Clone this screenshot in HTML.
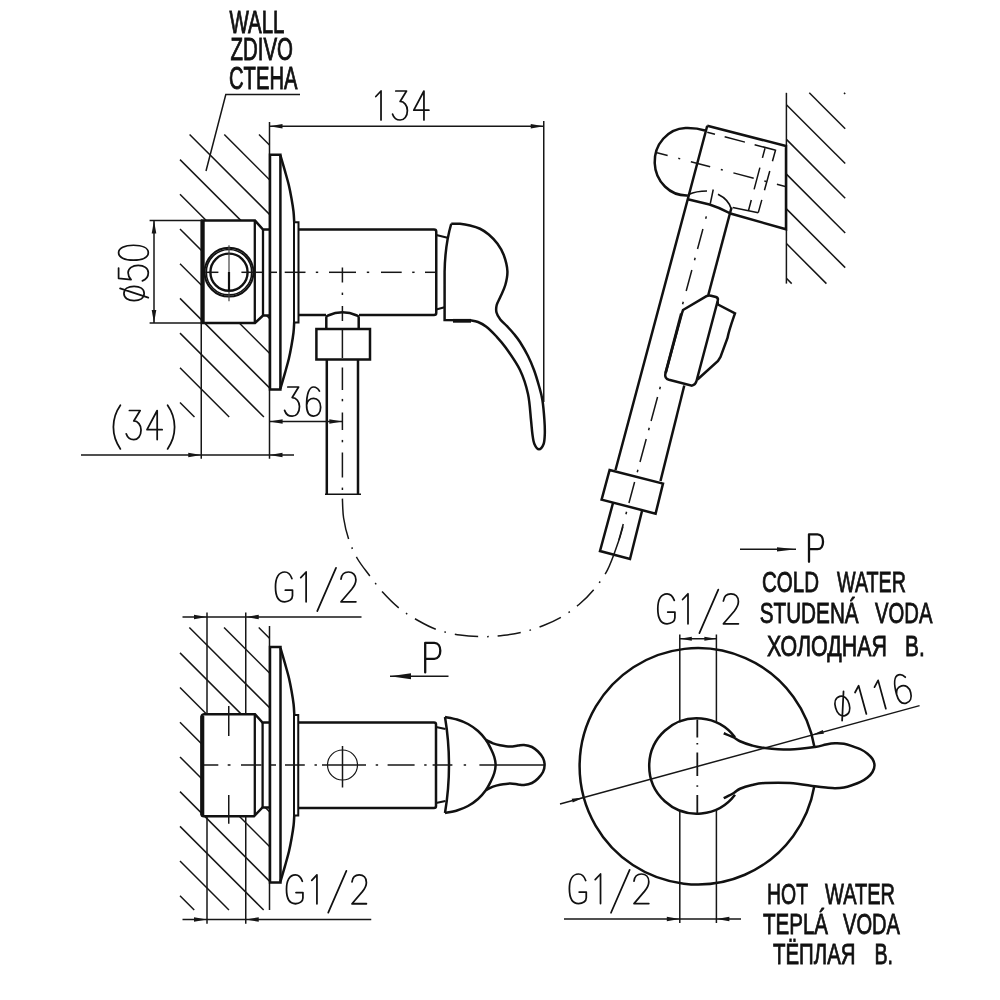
<!DOCTYPE html>
<html><head><meta charset="utf-8"><title>Drawing</title>
<style>html,body{margin:0;padding:0;background:#fff}svg{display:block}text{font-family:"Liberation Sans",sans-serif}svg{filter:grayscale(1)}</style>
</head><body>
<svg width="1000" height="1000" viewBox="0 0 1000 1000">
<rect width="1000" height="1000" fill="#fff"/>
<!-- view 1 -->
<line x1="259.00" y1="134.50" x2="269.50" y2="145.00" stroke="#161616" stroke-width="1.5" />
<line x1="224.30" y1="134.50" x2="269.50" y2="179.70" stroke="#161616" stroke-width="1.5" />
<line x1="189.60" y1="134.50" x2="269.50" y2="214.40" stroke="#161616" stroke-width="1.5" />
<line x1="180.00" y1="159.60" x2="269.50" y2="249.10" stroke="#161616" stroke-width="1.5" />
<line x1="180.00" y1="194.30" x2="269.50" y2="283.80" stroke="#161616" stroke-width="1.5" />
<line x1="180.00" y1="229.00" x2="269.50" y2="318.50" stroke="#161616" stroke-width="1.5" />
<line x1="180.00" y1="263.70" x2="269.50" y2="353.20" stroke="#161616" stroke-width="1.5" />
<line x1="180.00" y1="298.40" x2="269.50" y2="387.90" stroke="#161616" stroke-width="1.5" />
<line x1="180.00" y1="333.10" x2="263.90" y2="417.00" stroke="#161616" stroke-width="1.5" />
<line x1="180.00" y1="367.80" x2="229.20" y2="417.00" stroke="#161616" stroke-width="1.5" />
<line x1="180.00" y1="402.50" x2="194.50" y2="417.00" stroke="#161616" stroke-width="1.5" />
<path d="M269.5,229.6 H263 L255,220.6 H202 V323 H255 L263,315.6 H269.5Z" fill="#fff"/>
<path d="M300,94.5 H225.8 L206,171" stroke="#161616" stroke-width="1.5" fill="none" />
<line x1="269.50" y1="122.00" x2="269.50" y2="458.75" stroke="#161616" stroke-width="1.5" />
<path d="M270,229.6 H263 L255,220.6 H202 V323 H255 L263,315.6 H270" stroke="#111" stroke-width="2.5" fill="none" />
<line x1="202.60" y1="220.60" x2="202.60" y2="323.00" stroke="#111" stroke-width="4.2" />
<line x1="254.80" y1="220.60" x2="254.80" y2="323.00" stroke="#111" stroke-width="2.3" />
<line x1="263.00" y1="229.60" x2="263.00" y2="315.60" stroke="#111" stroke-width="2.3" />
<circle cx="229" cy="272.2" r="24.4" stroke="#111" stroke-width="2.0" fill="none" />
<circle cx="229" cy="272.2" r="22.7" stroke="#111" stroke-width="1.6" fill="none" />
<circle cx="229" cy="272.2" r="18.6" stroke="#111" stroke-width="2.4" fill="none" />
<line x1="229.00" y1="245.20" x2="229.00" y2="301.20" stroke="#444" stroke-width="1.2" />
<line x1="229.00" y1="272.00" x2="229.00" y2="291.50" stroke="#111" stroke-width="2.2" />
<path d="M270,154.8 H280.4 V389.4 H270Z" stroke="#111" stroke-width="2.5" fill="none" />
<path d="M280.40,155.40 C281.17,158.03 283.58,166.18 285.00,171.20 C286.42,176.22 287.82,180.95 288.90,185.50 C289.98,190.05 290.73,194.17 291.50,198.50 C292.27,202.83 293.05,207.60 293.50,211.50 C293.95,215.40 294.08,220.17 294.20,221.90" stroke="#111" stroke-width="2.5" fill="none" />
<path d="M294.20,322.10 C294.08,323.83 293.95,328.60 293.50,332.50 C293.05,336.40 292.27,341.17 291.50,345.50 C290.73,349.83 289.98,353.95 288.90,358.50 C287.82,363.05 286.42,367.78 285.00,372.80 C283.58,377.82 281.17,385.97 280.40,388.60" stroke="#111" stroke-width="2.5" fill="none" />
<path d="M294,222.3 H298.5 V322.5 H294Z" stroke="#111" stroke-width="2.0" fill="none" />
<path d="M298.75,229.5 H434 Q436.25,229.5 436.25,231.7 V313 Q436.25,315 434,315 H359" stroke="#111" stroke-width="2.5" fill="none" />
<path d="M298.75,315 H326" stroke="#111" stroke-width="2.5" fill="none" />
<path d="M326.3,329 V317.5 Q326.3,316 328,315.5 Q342.5,309 357,315.5 Q358.7,316 358.7,317.5 V329" stroke="#111" stroke-width="2.5" fill="none" />
<path d="M316.4,329 H370 V359.6 H316.4Z" stroke="#111" stroke-width="2.5" fill="none" />
<path d="M326.8,359.6 V494.25 M358,359.6 V494.25" stroke="#111" stroke-width="2.5" fill="none" />
<line x1="325.00" y1="494.25" x2="361.00" y2="494.25" stroke="#111" stroke-width="1.6" />
<path d="M436.25,235 L447.5,237.8 M436.25,309.5 L444.5,307.3" stroke="#111" stroke-width="2.2" fill="none" />
<path d="M451.25,223.75 C452.71,223.76 456.88,223.51 460.00,223.80 C463.12,224.09 466.67,224.68 470.00,225.50 C473.33,226.32 476.88,227.25 480.00,228.75 C483.12,230.25 485.83,232.00 488.75,234.50 C491.67,237.00 495.00,240.33 497.50,243.75 C500.00,247.17 502.10,250.46 503.75,255.00 C505.40,259.54 507.14,266.00 507.40,271.00 C507.66,276.00 506.48,280.67 505.30,285.00 C504.12,289.33 501.73,293.67 500.30,297.00 C498.87,300.33 497.33,302.42 496.70,305.00 C496.07,307.58 495.90,310.08 496.50,312.50 C497.10,314.92 498.55,317.22 500.30,319.50 C502.05,321.78 504.72,323.78 507.00,326.20 C509.28,328.62 511.83,331.37 514.00,334.00 C516.17,336.63 517.67,338.33 520.00,342.00 C522.33,345.67 525.67,351.33 528.00,356.00 C530.33,360.67 532.17,365.00 534.00,370.00 C535.83,375.00 537.60,381.00 539.00,386.00 C540.40,391.00 541.50,394.33 542.40,400.00 C543.30,405.67 544.00,414.33 544.40,420.00 C544.80,425.67 544.93,430.00 544.80,434.00 C544.67,438.00 544.57,441.45 543.60,444.00 C542.63,446.55 540.53,449.30 539.00,449.30 C537.47,449.30 535.50,446.55 534.40,444.00 C533.30,441.45 532.97,438.00 532.40,434.00 C531.83,430.00 531.73,426.67 531.00,420.00 C530.27,413.33 529.83,402.33 528.00,394.00 C526.17,385.67 523.67,377.67 520.00,370.00 C516.33,362.33 510.00,353.67 506.00,348.00 C502.00,342.33 499.33,339.58 496.00,336.00 C492.67,332.42 489.00,328.83 486.00,326.50 C483.00,324.17 480.67,323.03 478.00,322.00 C475.33,320.97 471.33,320.58 470.00,320.30 L444.6,320 L444.6,272 Q445,245 451.25,223.75" stroke="#111" stroke-width="2.5" fill="none" />
<line x1="453.00" y1="320.80" x2="471.00" y2="320.80" stroke="#111" stroke-width="3.8" />
<line x1="205.40" y1="272.30" x2="218.40" y2="272.30" stroke="#161616" stroke-width="1.5" />
<line x1="241.40" y1="272.30" x2="262.40" y2="272.30" stroke="#161616" stroke-width="1.5" />
<line x1="269.00" y1="272.30" x2="277.00" y2="272.30" stroke="#161616" stroke-width="1.5" />
<line x1="284.70" y1="272.30" x2="305.50" y2="272.30" stroke="#161616" stroke-width="1.5" />
<line x1="315.80" y1="272.30" x2="318.20" y2="272.30" stroke="#161616" stroke-width="1.5" />
<line x1="329.00" y1="272.30" x2="356.00" y2="272.30" stroke="#161616" stroke-width="1.5" />
<line x1="366.80" y1="272.30" x2="369.20" y2="272.30" stroke="#161616" stroke-width="1.5" />
<line x1="381.00" y1="272.30" x2="401.70" y2="272.30" stroke="#161616" stroke-width="1.5" />
<line x1="412.20" y1="272.30" x2="414.60" y2="272.30" stroke="#161616" stroke-width="1.5" />
<line x1="425.00" y1="272.30" x2="435.50" y2="272.30" stroke="#161616" stroke-width="1.5" />
<line x1="342.40" y1="267.50" x2="342.40" y2="282.50" stroke="#161616" stroke-width="1.5" />
<line x1="342.40" y1="292.60" x2="342.40" y2="295.00" stroke="#161616" stroke-width="1.5" />
<line x1="342.40" y1="306.00" x2="342.40" y2="321.00" stroke="#161616" stroke-width="1.5" />
<line x1="342.40" y1="330.00" x2="342.40" y2="358.00" stroke="#161616" stroke-width="1.5" />
<line x1="342.40" y1="367.50" x2="342.40" y2="390.00" stroke="#161616" stroke-width="1.5" />
<line x1="342.40" y1="398.90" x2="342.40" y2="401.30" stroke="#161616" stroke-width="1.5" />
<line x1="342.40" y1="412.50" x2="342.40" y2="430.00" stroke="#161616" stroke-width="1.5" />
<line x1="342.40" y1="439.90" x2="342.40" y2="442.30" stroke="#161616" stroke-width="1.5" />
<line x1="342.40" y1="452.50" x2="342.40" y2="477.50" stroke="#161616" stroke-width="1.5" />
<line x1="342.40" y1="487.60" x2="342.40" y2="490.00" stroke="#161616" stroke-width="1.5" />
<line x1="269.50" y1="126.25" x2="543.75" y2="126.25" stroke="#161616" stroke-width="1.5" />
<polygon points="269.50,126.25 282.50,123.95 282.50,128.55" fill="#161616"/>
<polygon points="543.75,126.25 530.75,128.55 530.75,123.95" fill="#161616"/>
<line x1="543.75" y1="121.00" x2="543.75" y2="402.00" stroke="#161616" stroke-width="1.5" />
<line x1="149.60" y1="220.60" x2="202.00" y2="220.60" stroke="#161616" stroke-width="1.5" />
<line x1="149.60" y1="323.00" x2="202.00" y2="323.00" stroke="#161616" stroke-width="1.5" />
<line x1="154.00" y1="220.60" x2="154.00" y2="323.00" stroke="#161616" stroke-width="1.5" />
<polygon points="154.00,220.60 156.30,233.60 151.70,233.60" fill="#161616"/>
<polygon points="154.00,323.00 151.70,310.00 156.30,310.00" fill="#161616"/>
<line x1="269.60" y1="421.50" x2="342.30" y2="421.50" stroke="#161616" stroke-width="1.5" />
<polygon points="269.60,421.50 282.60,419.20 282.60,423.80" fill="#161616"/>
<polygon points="342.30,421.50 329.30,423.80 329.30,419.20" fill="#161616"/>
<line x1="81.00" y1="455.00" x2="294.00" y2="455.00" stroke="#161616" stroke-width="1.5" />
<polygon points="201.25,455.00 188.25,457.30 188.25,452.70" fill="#161616"/>
<polygon points="269.50,455.00 282.50,452.70 282.50,457.30" fill="#161616"/>
<line x1="201.25" y1="323.00" x2="201.25" y2="458.75" stroke="#161616" stroke-width="1.5" />
<g transform="translate(0.00,120.00) rotate(0)" fill="none" stroke="#111" stroke-width="6.03" stroke-linecap="round" stroke-linejoin="round"><title>134</title>
<path transform="translate(375.80,-29.00) scale(0.2900)" d="M0,19 L18,0 L18,100"/>
<path transform="translate(392.60,-29.00) scale(0.2900)" d="M11,0 L48,0 L26,36 C40,36 51,50 51,67 C51,88 40,100 26,100 C13,100 4,92 0,80"/>
<path transform="translate(413.80,-29.00) scale(0.2900)" d="M35,100 L35,0 L0,66 L52,66"/>
</g>
<g transform="translate(0.00,416.20) rotate(0)" fill="none" stroke="#111" stroke-width="5.99" stroke-linecap="round" stroke-linejoin="round"><title>36</title>
<path transform="translate(284.60,-29.20) scale(0.2920)" d="M11,0 L48,0 L26,36 C40,36 51,50 51,67 C51,88 40,100 26,100 C13,100 4,92 0,80"/>
<path transform="translate(306.60,-29.20) scale(0.2920)" d="M44,14 C39,5 32,0 24,0 C8,0 0,25 0,62 C0,88 10,100 24,100 C38,100 48,88 48,69 C48,51 38,39 24,39 C12,39 2,48 0,62"/>
</g>
<g transform="translate(0.00,439.60) rotate(0)" fill="none" stroke="#111" stroke-width="6.01" stroke-linecap="round" stroke-linejoin="round"><title>(34)</title>
<path transform="translate(113.40,-29.10) scale(0.2910)" d="M24,-18 C8,5 0,30 0,57 C0,84 8,109 24,132"/>
<path transform="translate(126.20,-29.10) scale(0.2910)" d="M11,0 L48,0 L26,36 C40,36 51,50 51,67 C51,88 40,100 26,100 C13,100 4,92 0,80"/>
<path transform="translate(147.00,-29.10) scale(0.2910)" d="M35,100 L35,0 L0,66 L52,66"/>
<path transform="translate(167.60,-29.10) scale(0.2910)" d="M0,-18 C16,5 24,30 24,57 C24,84 16,109 0,132"/>
</g>
<g transform="translate(148.30,300.60) rotate(-90)" fill="none" stroke="#111" stroke-width="5.89" stroke-linecap="round" stroke-linejoin="round"><title>ø50</title>
<path transform="translate(0.00,-29.70) scale(0.2970)" d="M24,18 C9,18 0,32 0,52 C0,72 9,86 24,86 C39,86 48,72 48,52 C48,32 39,18 24,18Z M10,100 L41,5"/>
<path transform="translate(19.80,-29.70) scale(0.2970)" d="M43,0 L8,0 L4,42 C12,34 20,32 27,32 C42,32 52,47 52,66 C52,86 42,100 27,100 C14,100 4,92 0,80"/>
<path transform="translate(40.50,-29.70) scale(0.2970)" d="M25,0 C9,0 0,20 0,50 C0,80 9,100 25,100 C41,100 50,80 50,50 C50,20 41,0 25,0Z"/>
</g>
<text x="229.50" y="32.50" textLength="55.00" lengthAdjust="spacingAndGlyphs" font-size="30.7" font-weight="normal" stroke="#111" stroke-width="0.9" fill="#111">WALL</text>
<text x="230.50" y="59.50" textLength="62.50" lengthAdjust="spacingAndGlyphs" font-size="30.7" font-weight="normal" stroke="#111" stroke-width="0.9" fill="#111">ZDIVO</text>
<text x="229.00" y="89.00" textLength="68.50" lengthAdjust="spacingAndGlyphs" font-size="30.7" font-weight="normal" stroke="#111" stroke-width="0.9" fill="#111">CTEHA</text>
<!-- hose -->
<path d="M342.40,498.60 C342.60,501.83 342.57,511.28 343.60,518.00 C344.63,524.72 346.37,532.23 348.60,538.90 C350.83,545.57 353.64,552.07 357.00,558.00 C360.36,563.93 364.42,568.75 368.75,574.50 C373.08,580.25 377.83,586.81 383.00,592.50 C388.17,598.19 393.92,603.98 399.75,608.65 C405.58,613.32 411.79,616.99 418.00,620.50 C424.21,624.01 430.00,627.28 437.00,629.70 C444.00,632.12 452.25,633.83 460.00,635.00 C467.75,636.17 476.17,636.65 483.50,636.70 C490.83,636.75 497.29,636.10 504.00,635.30 C510.71,634.50 517.17,633.53 523.75,631.90 C530.33,630.27 537.04,628.08 543.50,625.50 C549.96,622.92 556.58,619.90 562.50,616.40 C568.42,612.90 573.83,608.90 579.00,604.50 C584.17,600.10 588.75,595.77 593.50,590.00 C598.25,584.23 603.37,577.90 607.50,569.90 C611.63,561.90 615.72,549.23 618.30,542.00 C620.88,534.77 622.22,529.08 623.00,526.50" stroke="#161616" stroke-width="1.5" fill="none" stroke-dasharray="41 9 1.6 9 23.4 9 1.6 9 23.4 9 1.6 9 23.4 9 1.6 9 23.4 9 1.6 9 23.4 9 1.6 9 23.4 9 1.6 9 23.4 9 1.6 9 80 0"/>
<!-- view 2 -->
<line x1="844.00" y1="92.80" x2="845.20" y2="94.00" stroke="#161616" stroke-width="1.5" />
<line x1="809.27" y1="92.80" x2="845.20" y2="128.73" stroke="#161616" stroke-width="1.5" />
<line x1="786.40" y1="104.66" x2="845.20" y2="163.46" stroke="#161616" stroke-width="1.5" />
<line x1="786.40" y1="139.39" x2="845.20" y2="198.19" stroke="#161616" stroke-width="1.5" />
<line x1="786.40" y1="174.12" x2="845.20" y2="232.92" stroke="#161616" stroke-width="1.5" />
<line x1="786.40" y1="208.85" x2="845.20" y2="267.65" stroke="#161616" stroke-width="1.5" />
<line x1="786.40" y1="243.58" x2="826.42" y2="283.60" stroke="#161616" stroke-width="1.5" />
<line x1="786.40" y1="278.31" x2="791.69" y2="283.60" stroke="#161616" stroke-width="1.5" />
<line x1="786.40" y1="92.80" x2="786.40" y2="283.60" stroke="#161616" stroke-width="1.5" />
<path d="M707.25,125.75 L786,146 V229.25 L730.5,213.5 C724,210 716,206.5 709.5,204.5 L687.75,199.25" stroke="#111" stroke-width="2.5" fill="none" />
<path d="M707.25,125.75 L687.75,199.25 L615.5,470" stroke="#111" stroke-width="2.5" fill="none" />
<path d="M705,130.5 C699,128.5 692,127.8 685.5,128 A32,33.75 0 0 0 687.9,195.5" stroke="#111" stroke-width="2.5" fill="none" />
<path d="M688.5,194.5 C694,192 700,191 707,191 M718,194.3 C724.5,197.5 729.8,203 731.5,209.5" stroke="#111" stroke-width="1.7" fill="none" />
<path d="M731.5,207.5 L708.3,295" stroke="#111" stroke-width="2.5" fill="none" />
<path d="M684.3,385.5 L660.5,481" stroke="#111" stroke-width="2.5" fill="none" />
<path d="M683,310 L706.5,296.2 Q708.5,295 711,295.7 L716,297 Q718.5,298 717.8,300.5 L696.5,381 Q695.5,384.8 692,385.6 L669,379.8 Q664.5,378.5 665.3,374 L682,313Z" stroke="#111" stroke-width="2.5" fill="none" />
<path d="M681.3,313.5 L665.6,373" stroke="#111" stroke-width="2.8" fill="none" />
<path d="M717.5,301.5 L718,304.5 L735,313.3 C732,322 729,330 727.5,338 L720.5,357 L718,361 L697.5,379.5" stroke="#111" stroke-width="2.5" fill="none" />
<path d="M609.6,470 L663,483.6 L655.6,513.6 L601.6,499.6Z" stroke="#111" stroke-width="2.5" fill="none" />
<path d="M613,503 L600,551 L630,559 L642,511" stroke="#111" stroke-width="2.5" fill="none" />
<path d="M707.25,132.2 L775.5,150.2 L758.25,212.75" stroke="#111" stroke-width="1.5" fill="none" stroke-dasharray="8 10 21 10 21 0.1 12 10 20 10 13 0.1"/>
<path d="M758.25,212.75 L732.75,207.5" stroke="#111" stroke-width="1.5" fill="none" />
<path d="M765,148.25 L748.5,210.5" stroke="#111" stroke-width="1.5" fill="none" stroke-dasharray="10 10 22.5 11 11 1"/>
<path d="M713.25,189.5 L710.25,203.75" stroke="#111" stroke-width="1.5" fill="none" />
<path d="M657,152.75 L785.25,186.5" stroke="#161616" stroke-width="1.5" fill="none" stroke-dasharray="11 11 2 11 20 11 2 11 21 11 2 11 11 1"/>
<path d="M706.32,216.40 L705.68,218.80 M695.15,257.80 L694.50,260.20 M683.27,301.80 L682.62,304.20 M660.32,386.80 L659.67,389.20 M649.25,427.80 L648.60,430.20 M637.91,469.80 L637.26,472.20 M626.57,511.80 L625.92,514.20 M702.92,229.00 L697.52,249.00 M691.85,270.00 L686.18,291.00 M657.56,397.00 L651.08,421.00 M646.22,439.00 L640.01,462.00 M634.61,482.00 L628.94,503.00 M623.27,524.00 L618.95,540.00" stroke="#161616" stroke-width="1.5" fill="none" />
<!-- view 3 -->
<line x1="258.75" y1="627.50" x2="269.50" y2="638.25" stroke="#161616" stroke-width="1.5" />
<line x1="224.05" y1="627.50" x2="269.50" y2="672.95" stroke="#161616" stroke-width="1.5" />
<line x1="189.35" y1="627.50" x2="269.50" y2="707.65" stroke="#161616" stroke-width="1.5" />
<line x1="180.00" y1="652.85" x2="269.50" y2="742.35" stroke="#161616" stroke-width="1.5" />
<line x1="180.00" y1="687.55" x2="269.50" y2="777.05" stroke="#161616" stroke-width="1.5" />
<line x1="180.00" y1="722.25" x2="269.50" y2="811.75" stroke="#161616" stroke-width="1.5" />
<line x1="180.00" y1="756.95" x2="269.50" y2="846.45" stroke="#161616" stroke-width="1.5" />
<line x1="180.00" y1="791.65" x2="269.50" y2="881.15" stroke="#161616" stroke-width="1.5" />
<line x1="180.00" y1="826.35" x2="263.65" y2="910.00" stroke="#161616" stroke-width="1.5" />
<line x1="180.00" y1="861.05" x2="228.95" y2="910.00" stroke="#161616" stroke-width="1.5" />
<line x1="180.00" y1="895.75" x2="194.25" y2="910.00" stroke="#161616" stroke-width="1.5" />
<path d="M269.5,722.5 H262.5 L255,714.25 H201.25 V816.25 H254 L262.5,807.5 H269.5Z" fill="#fff"/>
<line x1="269.50" y1="626.00" x2="269.50" y2="910.00" stroke="#161616" stroke-width="1.5" />
<path d="M270,722.5 H262.5 L255,714.25 H204 Q201.5,714.5 201.5,717 V814 Q201.5,816.25 204,816.25 H254 L262.5,807.5 H270" stroke="#111" stroke-width="2.5" fill="none" />
<line x1="202.40" y1="716.00" x2="202.40" y2="815.00" stroke="#111" stroke-width="3.8" />
<line x1="254.80" y1="714.25" x2="254.80" y2="816.00" stroke="#111" stroke-width="2.3" />
<line x1="262.60" y1="722.50" x2="262.60" y2="807.50" stroke="#111" stroke-width="2.3" />
<path d="M270,647 H280.5 V882.5 H270Z" stroke="#111" stroke-width="2.5" fill="none" />
<path d="M280.50,648.15 C281.27,650.78 283.68,658.93 285.10,663.95 C286.52,668.97 287.92,673.70 289.00,678.25 C290.08,682.80 290.83,686.92 291.60,691.25 C292.37,695.58 293.15,700.35 293.60,704.25 C294.05,708.15 294.18,712.92 294.30,714.65" stroke="#111" stroke-width="2.5" fill="none" />
<path d="M294.30,814.85 C294.18,816.58 294.05,821.35 293.60,825.25 C293.15,829.15 292.37,833.92 291.60,838.25 C290.83,842.58 290.08,846.70 289.00,851.25 C287.92,855.80 286.52,860.53 285.10,865.55 C283.68,870.57 281.27,878.72 280.50,881.35" stroke="#111" stroke-width="2.5" fill="none" />
<path d="M294,715 H298.25 V815.5 H294Z" stroke="#111" stroke-width="2.0" fill="none" />
<path d="M298.25,722.5 H434 Q436,722.5 436,724.5 V806 Q436,808 434,808 H298.25" stroke="#111" stroke-width="2.5" fill="none" />
<path d="M436,727 L445.5,729 M436,803 L445.5,801" stroke="#111" stroke-width="2.2" fill="none" />
<path d="M445,717 Q453,765 445,813" stroke="#111" stroke-width="2.5" fill="none" />
<path d="M445.00,717.00 C447.00,717.42 453.17,718.33 457.00,719.50 C460.83,720.67 464.50,722.08 468.00,724.00 C471.50,725.92 475.00,728.33 478.00,731.00 C481.00,733.67 483.83,737.00 486.00,740.00 C488.17,743.00 489.62,746.17 491.00,749.00 C492.38,751.83 493.53,754.33 494.30,757.00 C495.07,759.67 495.60,762.33 495.60,765.00 C495.60,767.67 495.07,770.33 494.30,773.00 C493.53,775.67 492.38,778.17 491.00,781.00 C489.62,783.83 488.17,787.00 486.00,790.00 C483.83,793.00 481.00,796.33 478.00,799.00 C475.00,801.67 471.50,804.08 468.00,806.00 C464.50,807.92 460.83,809.33 457.00,810.50 C453.17,811.67 447.00,812.58 445.00,813.00" stroke="#111" stroke-width="2.5" fill="none" />
<path d="M486.00,740.00 C487.17,740.55 490.67,742.43 493.00,743.30 C495.33,744.17 497.17,744.65 500.00,745.20 C502.83,745.75 507.00,746.53 510.00,746.60 C513.00,746.67 515.67,745.87 518.00,745.60 C520.33,745.33 521.67,744.77 524.00,745.00 C526.33,745.23 529.67,745.92 532.00,747.00 C534.33,748.08 536.17,749.67 538.00,751.50 C539.83,753.33 541.90,755.75 543.00,758.00 C544.10,760.25 544.60,762.67 544.60,765.00 C544.60,767.33 544.10,769.75 543.00,772.00 C541.90,774.25 539.83,776.67 538.00,778.50 C536.17,780.33 534.33,781.92 532.00,783.00 C529.67,784.08 526.33,784.77 524.00,785.00 C521.67,785.23 520.33,784.67 518.00,784.40 C515.67,784.13 513.00,783.33 510.00,783.40 C507.00,783.47 502.83,784.25 500.00,784.80 C497.17,785.35 495.33,785.83 493.00,786.70 C490.67,787.57 487.17,789.45 486.00,790.00" stroke="#111" stroke-width="2.5" fill="none" />
<circle cx="342.5" cy="765" r="15" stroke="#161616" stroke-width="1.2" fill="none" />
<line x1="342.50" y1="746.00" x2="342.50" y2="787.50" stroke="#161616" stroke-width="1.5" />
<line x1="204.00" y1="765.00" x2="218.30" y2="765.00" stroke="#161616" stroke-width="1.5" />
<line x1="227.70" y1="765.00" x2="230.50" y2="765.00" stroke="#161616" stroke-width="1.5" />
<line x1="241.00" y1="765.00" x2="261.50" y2="765.00" stroke="#161616" stroke-width="1.5" />
<line x1="270.60" y1="765.00" x2="276.00" y2="765.00" stroke="#161616" stroke-width="1.5" />
<line x1="285.00" y1="765.00" x2="304.80" y2="765.00" stroke="#161616" stroke-width="1.5" />
<line x1="314.50" y1="765.00" x2="316.90" y2="765.00" stroke="#161616" stroke-width="1.5" />
<line x1="322.00" y1="765.00" x2="366.00" y2="765.00" stroke="#161616" stroke-width="1.5" />
<line x1="375.70" y1="765.00" x2="378.10" y2="765.00" stroke="#161616" stroke-width="1.5" />
<line x1="387.60" y1="765.00" x2="414.60" y2="765.00" stroke="#161616" stroke-width="1.5" />
<line x1="424.20" y1="765.00" x2="426.60" y2="765.00" stroke="#161616" stroke-width="1.5" />
<line x1="432.60" y1="765.00" x2="452.40" y2="765.00" stroke="#161616" stroke-width="1.5" />
<line x1="463.70" y1="765.00" x2="466.10" y2="765.00" stroke="#161616" stroke-width="1.5" />
<line x1="479.40" y1="765.00" x2="544.00" y2="765.00" stroke="#161616" stroke-width="1.5" />
<line x1="228.75" y1="706.00" x2="228.75" y2="736.00" stroke="#161616" stroke-width="1.5" />
<line x1="228.75" y1="795.00" x2="228.75" y2="823.75" stroke="#161616" stroke-width="1.5" />
<line x1="182.50" y1="617.00" x2="361.50" y2="617.00" stroke="#161616" stroke-width="1.5" />
<polygon points="207.00,617.00 194.00,619.30 194.00,614.70" fill="#161616"/>
<polygon points="245.75,617.00 258.75,614.70 258.75,619.30" fill="#161616"/>
<line x1="207.00" y1="612.50" x2="207.00" y2="713.75" stroke="#161616" stroke-width="1.5" />
<line x1="245.75" y1="612.50" x2="245.75" y2="713.75" stroke="#161616" stroke-width="1.5" />
<line x1="182.50" y1="919.50" x2="371.25" y2="919.50" stroke="#161616" stroke-width="1.5" />
<polygon points="207.00,919.50 194.00,921.80 194.00,917.20" fill="#161616"/>
<polygon points="245.75,919.50 258.75,917.20 258.75,921.80" fill="#161616"/>
<line x1="207.00" y1="816.50" x2="207.00" y2="923.75" stroke="#161616" stroke-width="1.5" />
<line x1="245.75" y1="816.50" x2="245.75" y2="923.75" stroke="#161616" stroke-width="1.5" />
<g transform="translate(0.00,601.80) rotate(0)" fill="none" stroke="#111" stroke-width="5.87" stroke-linecap="round" stroke-linejoin="round"><title>G1/2</title>
<path transform="translate(275.50,-29.80) scale(0.2980)" d="M55,22 C50,8 42,0 31,0 C10,0 0,20 0,50 C0,80 10,100 31,100 C45,100 57,92 57,80 L57,61 L33,61"/>
<path transform="translate(300.75,-29.80) scale(0.2980)" d="M0,19 L18,0 L18,100"/>
<path transform="translate(317.25,-29.80) scale(0.2980)" d="M63,-14 L0,131"/>
<path transform="translate(341.00,-29.80) scale(0.2980)" d="M0,24 C2,8 12,0 25,0 C40,0 50,10 50,26 C50,38 44,48 36,58 L0,100 L50,100"/>
</g>
<g transform="translate(0.00,903.75) rotate(0)" fill="none" stroke="#111" stroke-width="6.08" stroke-linecap="round" stroke-linejoin="round"><title>G1/2</title>
<path transform="translate(286.50,-28.80) scale(0.2880)" d="M55,22 C50,8 42,0 31,0 C10,0 0,20 0,50 C0,80 10,100 31,100 C45,100 57,92 57,80 L57,61 L33,61"/>
<path transform="translate(311.75,-28.80) scale(0.2880)" d="M0,19 L18,0 L18,100"/>
<path transform="translate(328.25,-28.80) scale(0.2880)" d="M63,-14 L0,131"/>
<path transform="translate(352.00,-28.80) scale(0.2880)" d="M0,24 C2,8 12,0 25,0 C40,0 50,10 50,26 C50,38 44,48 36,58 L0,100 L50,100"/>
</g>
<line x1="390.00" y1="676.30" x2="448.50" y2="676.30" stroke="#161616" stroke-width="1.5" />
<polygon points="390.00,676.30 411.00,673.30 411.00,679.30" fill="#161616"/>
<g transform="translate(0.00,672.40) rotate(0)" fill="none" stroke="#111" stroke-width="7.77" stroke-linecap="round" stroke-linejoin="round"><title>P</title>
<path transform="translate(425.20,-29.60) scale(0.2960)" d="M0,100 L0,0 L31,0 C44,0 51,12 51,27 C51,42 44,54 31,54 L0,54"/>
</g>
<!-- view 4 -->
<path d="M814.30,786.30 A118.2,118.2 0 1 1 814.41,747.00" stroke="#111" stroke-width="2.5" fill="none" />
<path d="M735,737.3 A47.7,47.7 0 1 0 735,794.7" stroke="#111" stroke-width="2.5" fill="none" />
<path d="M723.75,733.25 C725.42,733.96 731.04,736.17 733.75,737.50 C736.46,738.83 736.96,739.92 740.00,741.25 C743.04,742.58 747.83,744.38 752.00,745.50 C756.17,746.62 758.67,747.33 765.00,748.00 C771.33,748.67 781.67,749.67 790.00,749.50 C798.33,749.33 809.00,747.83 815.00,747.00 C821.00,746.17 822.67,745.12 826.00,744.50 C829.33,743.88 832.00,743.42 835.00,743.30 C838.00,743.18 841.08,743.31 844.00,743.80 C846.92,744.29 849.67,745.30 852.50,746.25 C855.33,747.20 858.50,748.25 861.00,749.50 C863.50,750.75 865.58,752.17 867.50,753.75 C869.42,755.33 871.33,757.04 872.50,759.00 C873.67,760.96 874.50,763.33 874.50,765.50 C874.50,767.67 873.67,770.00 872.50,772.00 C871.33,774.00 869.42,775.90 867.50,777.50 C865.58,779.10 863.50,780.35 861.00,781.60 C858.50,782.85 855.33,784.02 852.50,785.00 C849.67,785.98 846.92,786.97 844.00,787.50 C841.08,788.03 838.00,788.20 835.00,788.20 C832.00,788.20 829.33,787.83 826.00,787.50 C822.67,787.17 821.00,787.00 815.00,786.25 C809.00,785.50 798.33,783.54 790.00,783.00 C781.67,782.46 771.33,782.67 765.00,783.00 C758.67,783.33 756.17,784.04 752.00,785.00 C747.83,785.96 743.04,787.42 740.00,788.75 C736.96,790.08 736.46,791.42 733.75,793.00 C731.04,794.58 725.42,797.38 723.75,798.25" stroke="#111" stroke-width="2.5" fill="none" />
<line x1="679.80" y1="634.50" x2="679.80" y2="722.13" stroke="#161616" stroke-width="1.5" />
<line x1="679.80" y1="810.47" x2="679.80" y2="923.00" stroke="#161616" stroke-width="1.5" />
<line x1="716.40" y1="634.50" x2="716.40" y2="722.38" stroke="#161616" stroke-width="1.5" />
<line x1="716.40" y1="810.22" x2="716.40" y2="923.00" stroke="#161616" stroke-width="1.5" />
<line x1="697.30" y1="719.50" x2="697.30" y2="737.50" stroke="#161616" stroke-width="1.8" />
<line x1="697.30" y1="743.00" x2="697.30" y2="744.50" stroke="#161616" stroke-width="1.8" />
<line x1="697.30" y1="752.50" x2="697.30" y2="776.00" stroke="#161616" stroke-width="1.8" />
<line x1="697.30" y1="785.30" x2="697.30" y2="786.80" stroke="#161616" stroke-width="1.8" />
<line x1="697.30" y1="795.00" x2="697.30" y2="813.75" stroke="#161616" stroke-width="1.8" />
<line x1="679.80" y1="638.80" x2="716.40" y2="638.80" stroke="#161616" stroke-width="1.5" />
<polygon points="679.80,638.80 691.80,636.80 691.80,640.80" fill="#161616"/>
<polygon points="716.40,638.80 704.40,640.80 704.40,636.80" fill="#161616"/>
<g transform="translate(0.00,623.80) rotate(0)" fill="none" stroke="#111" stroke-width="5.83" stroke-linecap="round" stroke-linejoin="round"><title>G1/2</title>
<path transform="translate(657.80,-30.00) scale(0.3000)" d="M55,22 C50,8 42,0 31,0 C10,0 0,20 0,50 C0,80 10,100 31,100 C45,100 57,92 57,80 L57,61 L33,61"/>
<path transform="translate(682.60,-30.00) scale(0.3000)" d="M0,19 L18,0 L18,100"/>
<path transform="translate(699.40,-30.00) scale(0.3000)" d="M63,-14 L0,131"/>
<path transform="translate(723.40,-30.00) scale(0.3000)" d="M0,24 C2,8 12,0 25,0 C40,0 50,10 50,26 C50,38 44,48 36,58 L0,100 L50,100"/>
</g>
<line x1="564.00" y1="919.00" x2="741.00" y2="919.00" stroke="#161616" stroke-width="1.5" />
<polygon points="679.80,919.00 666.80,921.30 666.80,916.70" fill="#161616"/>
<polygon points="716.40,919.00 729.40,916.70 729.40,921.30" fill="#161616"/>
<g transform="translate(0.00,903.60) rotate(0)" fill="none" stroke="#111" stroke-width="5.91" stroke-linecap="round" stroke-linejoin="round"><title>G1/2</title>
<path transform="translate(569.40,-29.60) scale(0.2960)" d="M55,22 C50,8 42,0 31,0 C10,0 0,20 0,50 C0,80 10,100 31,100 C45,100 57,92 57,80 L57,61 L33,61"/>
<path transform="translate(595.20,-29.60) scale(0.2960)" d="M0,19 L18,0 L18,100"/>
<path transform="translate(611.00,-29.60) scale(0.2960)" d="M63,-14 L0,131"/>
<path transform="translate(634.00,-29.60) scale(0.2960)" d="M0,24 C2,8 12,0 25,0 C40,0 50,10 50,26 C50,38 44,48 36,58 L0,100 L50,100"/>
</g>
<line x1="560.00" y1="804.00" x2="919.60" y2="705.62" stroke="#161616" stroke-width="1.5" />
<polygon points="811.81,735.11 822.86,730.01 823.91,733.87" fill="#161616"/>
<polygon points="583.79,797.49 572.74,802.59 571.69,798.73" fill="#161616"/>
<g transform="translate(866.30,714.00) rotate(-15.3)" fill="none" stroke="#111" stroke-width="5.97" stroke-linecap="round" stroke-linejoin="round"><title>ø116</title>
<path transform="translate(-28.00,-29.30) scale(0.2930)" d="M24,18 C9,18 0,32 0,52 C0,72 9,86 24,86 C39,86 48,72 48,52 C48,32 39,18 24,18Z M10,100 L41,5"/>
<path transform="translate(-5.20,-29.30) scale(0.2930)" d="M0,19 L18,0 L18,100"/>
<path transform="translate(15.00,-29.30) scale(0.2930)" d="M0,19 L18,0 L18,100"/>
<path transform="translate(34.40,-29.30) scale(0.2930)" d="M44,14 C39,5 32,0 24,0 C8,0 0,25 0,62 C0,88 10,100 24,100 C38,100 48,88 48,69 C48,51 38,39 24,39 C12,39 2,48 0,62"/>
</g>
<line x1="740.00" y1="549.30" x2="796.00" y2="549.30" stroke="#161616" stroke-width="1.5" />
<polygon points="796.00,549.30 777.00,551.40 777.00,547.20" fill="#161616"/>
<g transform="translate(0.00,561.80) rotate(0)" fill="none" stroke="#111" stroke-width="8.36" stroke-linecap="round" stroke-linejoin="round"><title>P</title>
<path transform="translate(809.00,-27.50) scale(0.2750)" d="M0,100 L0,0 L31,0 C44,0 51,12 51,27 C51,42 44,54 31,54 L0,54"/>
</g>
<text x="762.00" y="591.50" textLength="57.00" lengthAdjust="spacingAndGlyphs" font-size="28.6" font-weight="normal" stroke="#111" stroke-width="0.8" fill="#111">COLD</text>
<text x="837.00" y="591.50" textLength="69.00" lengthAdjust="spacingAndGlyphs" font-size="28.6" font-weight="normal" stroke="#111" stroke-width="0.8" fill="#111">WATER</text>
<text x="759.70" y="623.40" textLength="99.00" lengthAdjust="spacingAndGlyphs" font-size="28.6" font-weight="normal" stroke="#111" stroke-width="0.8" fill="#111">STUDENÁ</text>
<text x="875.00" y="623.40" textLength="57.40" lengthAdjust="spacingAndGlyphs" font-size="28.6" font-weight="normal" stroke="#111" stroke-width="0.8" fill="#111">VODA</text>
<text x="767.00" y="656.00" textLength="120.00" lengthAdjust="spacingAndGlyphs" font-size="28.6" font-weight="normal" stroke="#111" stroke-width="0.8" fill="#111">ХОЛОДНАЯ</text>
<text x="905.00" y="656.00" textLength="19.70" lengthAdjust="spacingAndGlyphs" font-size="28.6" font-weight="normal" stroke="#111" stroke-width="0.8" fill="#111">В.</text>
<text x="767.00" y="904.40" textLength="41.00" lengthAdjust="spacingAndGlyphs" font-size="28.6" font-weight="normal" stroke="#111" stroke-width="0.8" fill="#111">HOT</text>
<text x="825.00" y="904.40" textLength="70.00" lengthAdjust="spacingAndGlyphs" font-size="28.6" font-weight="normal" stroke="#111" stroke-width="0.8" fill="#111">WATER</text>
<text x="763.00" y="933.60" textLength="65.00" lengthAdjust="spacingAndGlyphs" font-size="28.6" font-weight="normal" stroke="#111" stroke-width="0.8" fill="#111">TEPLÁ</text>
<text x="843.00" y="933.60" textLength="57.00" lengthAdjust="spacingAndGlyphs" font-size="28.6" font-weight="normal" stroke="#111" stroke-width="0.8" fill="#111">VODA</text>
<text x="773.00" y="964.00" textLength="82.60" lengthAdjust="spacingAndGlyphs" font-size="28.6" font-weight="normal" stroke="#111" stroke-width="0.8" fill="#111">ТЁПЛАЯ</text>
<text x="874.40" y="964.00" textLength="18.60" lengthAdjust="spacingAndGlyphs" font-size="28.6" font-weight="normal" stroke="#111" stroke-width="0.8" fill="#111">В.</text>
</svg>
</body></html>
